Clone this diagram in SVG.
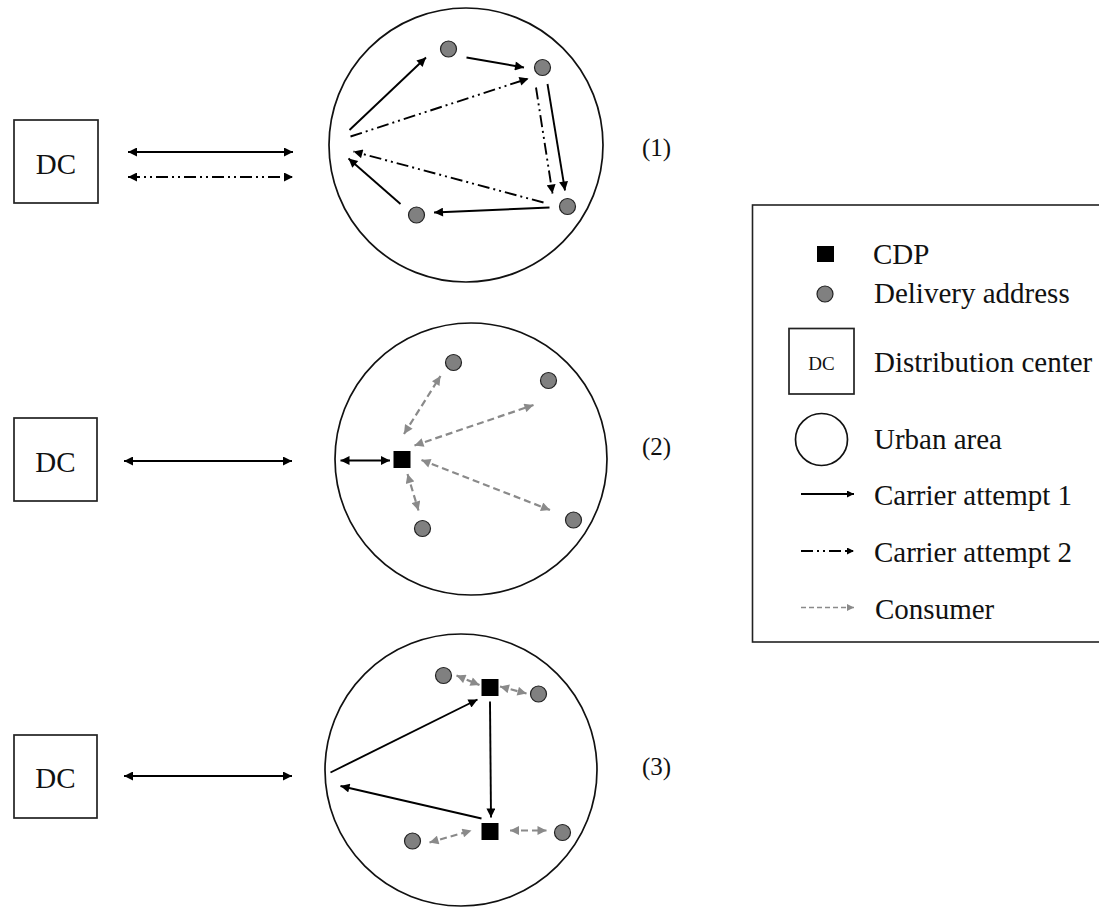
<svg xmlns="http://www.w3.org/2000/svg" width="1099" height="908" viewBox="0 0 1099 908">
<style>
.bg{fill:#fff}
.area{fill:none;stroke:#111;stroke-width:1.7}
.dcbox{fill:#fff;stroke:#222;stroke-width:1.7}
.txt{font-family:"Liberation Serif","Times New Roman",serif;fill:#111}
.dot{fill:#808080;stroke:#222;stroke-width:1.2}
.cdp{fill:#000}
.a1{fill:none;stroke:#000;stroke-width:1.9;marker-end:url(#ah)}
.a2{fill:none;stroke:#000;stroke-width:1.9;stroke-dasharray:12 4 2 4 2 4;marker-end:url(#ah)}
.d1{fill:none;stroke:#000;stroke-width:1.9;marker-start:url(#ah);marker-end:url(#ah)}
.d2{fill:none;stroke:#000;stroke-width:1.9;stroke-dasharray:12 4 2 4 2 4;marker-start:url(#ah);marker-end:url(#ah)}
.dg{fill:none;stroke:#8a8a8a;stroke-width:2.2;stroke-dasharray:7 4;marker-start:url(#ahg);marker-end:url(#ahg)}
</style>
<defs>
<marker id="ah" viewBox="0 0 10 10" refX="10" refY="5" markerWidth="11" markerHeight="9" markerUnits="userSpaceOnUse" orient="auto-start-reverse"><path d="M0,0 L10,5 L0,10 z" fill="#000"/></marker>
<marker id="ahg" viewBox="0 0 10 10" refX="10" refY="5" markerWidth="10" markerHeight="9" markerUnits="userSpaceOnUse" orient="auto-start-reverse"><path d="M0,0 L10,5 L0,10 z" fill="#8a8a8a"/></marker>
<marker id="ahs" viewBox="0 0 10 10" refX="10" refY="5" markerWidth="8" markerHeight="7" markerUnits="userSpaceOnUse" orient="auto"><path d="M0,0 L10,5 L0,10 z" fill="#000"/></marker>
<marker id="ahsg" viewBox="0 0 10 10" refX="10" refY="5" markerWidth="8" markerHeight="7" markerUnits="userSpaceOnUse" orient="auto"><path d="M0,0 L10,5 L0,10 z" fill="#8a8a8a"/></marker>
</defs>
<rect class="bg" x="0" y="0" width="1099" height="908"/>

<!-- DC nodes -->
<g id="dc1"><rect class="dcbox" x="14" y="120" width="84" height="83"/><text class="txt" x="56" y="174" font-size="29" text-anchor="middle">DC</text></g>
<g id="dc2"><rect class="dcbox" x="14" y="418" width="83" height="83"/><text class="txt" x="55.5" y="472" font-size="29" text-anchor="middle">DC</text></g>
<g id="dc3"><rect class="dcbox" x="14" y="735" width="83" height="83"/><text class="txt" x="55.5" y="788" font-size="29" text-anchor="middle">DC</text></g>

<!-- Urban areas -->
<g id="area1"><circle class="area" cx="466" cy="145" r="137"/><text class="txt" x="642" y="156" font-size="25">(1)</text></g>
<g id="area2"><circle class="area" cx="471" cy="459" r="136"/><text class="txt" x="642" y="455" font-size="25">(2)</text></g>
<g id="area3"><circle class="area" cx="461" cy="770" r="136"/><text class="txt" x="642" y="775" font-size="25">(3)</text></g>

<!-- Area 1 points -->
<g id="a1-dots">
<circle class="dot" cx="448.5" cy="49" r="8"/>
<circle class="dot" cx="542.5" cy="67.5" r="8"/>
<circle class="dot" cx="567.5" cy="206.5" r="8"/>
<circle class="dot" cx="416.5" cy="215" r="8"/>
</g>
<!-- Area 2 points -->
<g id="a2-nodes">
<rect class="cdp" x="393.5" y="451" width="17" height="17"/>
<circle class="dot" cx="453.5" cy="362.5" r="8"/>
<circle class="dot" cx="548.5" cy="380.5" r="8"/>
<circle class="dot" cx="573.5" cy="520" r="8"/>
<circle class="dot" cx="422.5" cy="528.5" r="8"/>
</g>
<!-- Area 3 points -->
<g id="a3-nodes">
<rect class="cdp" x="481.5" y="679" width="17" height="17"/>
<rect class="cdp" x="481.5" y="823" width="17" height="17"/>
<circle class="dot" cx="443.5" cy="675.5" r="8"/>
<circle class="dot" cx="538.5" cy="694" r="8"/>
<circle class="dot" cx="412.5" cy="841" r="8"/>
<circle class="dot" cx="562.5" cy="832.5" r="8"/>
</g>

<!-- Connectors -->
<g id="connectors">
<line class="d1" x1="128" y1="152" x2="293" y2="152"/>
<line class="d2" x1="128" y1="177" x2="293" y2="177"/>
<line class="d1" x1="124" y1="461" x2="292" y2="461"/>
<line class="d1" x1="124" y1="776" x2="292" y2="776"/>

<line class="a1" x1="349.5" y1="130" x2="426" y2="57.5"/>
<line class="a1" x1="466.5" y1="57.5" x2="524" y2="67.5"/>
<line class="a1" x1="547.5" y1="84" x2="565" y2="190.5"/>
<line class="a1" x1="549.5" y1="207.5" x2="434" y2="212.5"/>
<line class="a1" x1="400.5" y1="204" x2="348.5" y2="158.5"/>
<line class="a2" x1="350.5" y1="136.5" x2="528.5" y2="78.5"/>
<line class="a2" x1="536" y1="87.5" x2="552.5" y2="193.5"/>
<line class="a2" x1="543.5" y1="202.5" x2="353.5" y2="151.5"/>

<line class="d1" x1="340.5" y1="460.5" x2="390" y2="460.5"/>
<line class="dg" x1="404" y1="434" x2="440.5" y2="376"/>
<line class="dg" x1="414.5" y1="445.5" x2="533.5" y2="405"/>
<line class="dg" x1="421.5" y1="460" x2="550" y2="510"/>
<line class="dg" x1="407.5" y1="474" x2="418.5" y2="510.5"/>

<line class="a1" x1="330.5" y1="772.5" x2="477.5" y2="699.5"/>
<line class="a1" x1="490" y1="701.5" x2="491" y2="817.5"/>
<line class="a1" x1="481.5" y1="818.5" x2="340.5" y2="786"/>
<line class="dg" x1="456.5" y1="675.5" x2="479.5" y2="685"/>
<line class="dg" x1="500" y1="686.5" x2="526.5" y2="693.5"/>
<line class="dg" x1="429.5" y1="842.5" x2="471.5" y2="830.5"/>
<line class="dg" x1="510" y1="830.5" x2="546.5" y2="830.5"/>
</g>

<!-- Legend -->
<g id="legend">
<rect x="752.5" y="205" width="360" height="437" fill="#fff" stroke="#222" stroke-width="1.6"/>
<rect class="cdp" x="817" y="246" width="17" height="16"/>
<text class="txt" x="873" y="264" font-size="29">CDP</text>
<circle class="dot" cx="825" cy="294" r="8"/>
<text class="txt" x="874" y="303" font-size="29">Delivery address</text>
<rect class="dcbox" x="789" y="328.5" width="65" height="65.5"/>
<text class="txt" x="821.5" y="370" font-size="19" text-anchor="middle">DC</text>
<text class="txt" x="874" y="371.5" font-size="29">Distribution center</text>
<circle class="area" cx="821.5" cy="439.5" r="26"/>
<text class="txt" x="874" y="448.5" font-size="29">Urban area</text>
<line x1="801" y1="494" x2="854" y2="494" stroke="#000" stroke-width="1.8" marker-end="url(#ahs)"/>
<text class="txt" x="874" y="505" font-size="29">Carrier attempt 1</text>
<line x1="801" y1="551" x2="854" y2="551" stroke="#000" stroke-width="1.8" stroke-dasharray="12 4 2 4 2 4" marker-end="url(#ahs)"/>
<text class="txt" x="874" y="561.5" font-size="29">Carrier attempt 2</text>
<line x1="801" y1="607.5" x2="854" y2="607.5" stroke="#8a8a8a" stroke-width="1.5" stroke-dasharray="5 3" marker-end="url(#ahsg)"/>
<text class="txt" x="875" y="618.5" font-size="29">Consumer</text>
</g>
</svg>
